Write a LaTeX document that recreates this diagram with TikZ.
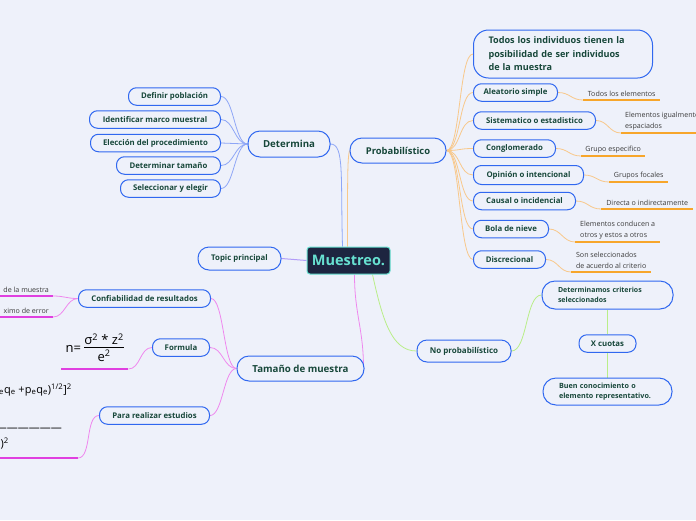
\documentclass[tikz,border=0pt]{standalone}
\usepackage{fontspec}
\setmainfont{Open Sans}
\usetikzlibrary{backgrounds}
\definecolor{bgc}{HTML}{EEF1FA}
\definecolor{bord}{HTML}{3068F0}
\definecolor{tgreen}{HTML}{17473A}
\definecolor{lgray}{HTML}{3A3A3A}
\definecolor{bcon}{HTML}{8EA6F6}
\definecolor{ocon}{HTML}{F8C88A}
\definecolor{oul}{HTML}{F7A62B}
\definecolor{pcon}{HTML}{EE88EE}
\definecolor{mul}{HTML}{E040E0}
\definecolor{gcon}{HTML}{B9EE88}
\definecolor{vcon}{HTML}{B29CF8}
\definecolor{navy}{HTML}{1D2540}
\definecolor{teal}{HTML}{67E0D0}
\begin{document}
\begin{tikzpicture}[x=1pt,y=-1pt,
  box/.style={draw=bord, line width=1pt, fill=bgc, rounded corners=8pt, text=tgreen,
    font=\fontsize{7.8}{9}\selectfont\bfseries, minimum height=17.5pt, inner sep=2pt},
  midbox/.style={box, rounded corners=12pt, font=\fontsize{9.7}{11}\selectfont\bfseries, minimum height=25pt},
  rootbox/.style={draw=teal, line width=1pt, fill=navy, rounded corners=3pt, text=teal,
    font=\fontsize{14.5}{16}\selectfont\bfseries, minimum width=83pt, minimum height=27pt, inner sep=2pt},
  leaf/.style={text=lgray, font=\fontsize{7.1}{11}\selectfont, align=left, inner xsep=4pt, inner ysep=3pt, anchor=south west},
  lleaf/.style={text=lgray, font=\fontsize{7.1}{11}\selectfont, inner xsep=4pt, inner ysep=3pt, anchor=south east},
  bc/.style={draw=bcon, line width=0.8pt},
  oc/.style={draw=ocon, line width=0.8pt},
  pc/.style={draw=pcon, line width=0.8pt},
  gc/.style={draw=gcon, line width=0.8pt},
  vc/.style={draw=vcon, line width=1pt},
  oline/.style={draw=oul, line width=1.6pt},
  mline/.style={draw=mul, line width=1.6pt},
  ftext/.style={anchor=base east, inner sep=0pt, font=\fontsize{11}{13}\selectfont}]
\useasboundingbox (0,0) rectangle (696,520);
\clip (0,0) rectangle (696,520);

% root
\node[rootbox] (root) at (348.5,260.5) {Muestreo.};
\node[box, minimum width=83pt, minimum height=23pt, rounded corners=11pt] (topic) at (239.5,258.5) {Topic principal};

% Determina branch
\node[midbox, minimum width=82pt, minimum height=26pt] (det) at (289,144) {Determina};
\node[box, minimum width=92pt, anchor=east] (d1) at (221,96.5) {Definir población};
\node[box, minimum width=131pt, anchor=east] (d2) at (221,119.5) {Identificar marco muestral};
\node[box, minimum width=130pt, anchor=east] (d3) at (221,143) {Elección del procedimiento};
\node[box, minimum width=104pt, anchor=east] (d4) at (221,165.5) {Determinar tamaño};
\node[box, minimum width=100pt, anchor=east] (d5) at (221,188.5) {Seleccionar y elegir};

% Probabilistico branch
\node[midbox, minimum width=96pt, font=\fontsize{9.4}{11}\selectfont\bfseries] (prob) at (398,150.5) {Probabilístico};
\node[box, rounded corners=15pt, font=\fontsize{9.1}{13.5}\selectfont\bfseries, align=left,
  text width=149pt, inner xsep=15pt, minimum height=48pt, anchor=west] (p0) at (473,54) {Todos los individuos tienen la\\posibilidad de ser individuos\\de la muestra};
\node[box, minimum width=84pt, anchor=west] (p1) at (473,92.5) {Aleatorio simple};
\node[box, minimum width=122pt, anchor=west] (p2) at (473,120.5) {Sistematico o estadistico};
\node[box, minimum width=82pt, anchor=west] (p3) at (473,148.5) {Conglomerado};
\node[box, minimum width=110pt, minimum height=19pt, anchor=west] (p4) at (473,175) {Opinión o intencional};
\node[box, minimum width=102pt, anchor=west] (p5) at (473,201) {Causal o incidencial};
\node[box, minimum width=75pt, anchor=west] (p6) at (473,229) {Bola de nieve};
\node[box, minimum width=72pt, anchor=west] (p7) at (473,259.5) {Discrecional};

\node[leaf, minimum width=77pt] (l1) at (583,100) {Todos los elementos};
\node[leaf, minimum width=80pt] (l2) at (621,133) {Elementos igualmente\\espaciados};
\node[leaf, minimum width=64pt] (l3) at (581,156) {Grupo especifico};
\node[leaf, minimum width=59pt] (l4) at (609,182) {Grupos focales};
\node[leaf, minimum width=92pt] (l5) at (601,209) {Directa o indirectamente};
\node[leaf, minimum width=85pt] (l6) at (575,242) {Elementos conducen a\\otros y estos a otros};
\node[leaf, minimum width=80pt] (l7) at (571,272) {Son seleccionados\\de acuerdo al criterio};

% No probabilistico branch
\node[box, minimum width=94pt, minimum height=22pt, rounded corners=10pt, font=\fontsize{8}{9}\selectfont\bfseries] (np) at (464,351) {No probabilístico};
\node[box, rounded corners=13pt, align=left, text width=99pt, inner xsep=16pt, minimum height=28pt,
  font=\fontsize{7}{10.5}\selectfont\bfseries] (dc) at (607.5,295) {Determinamos criterios\\seleccionados};
\node[box, minimum width=57pt] (xc) at (607.5,343.5) {X cuotas};
\node[box, rounded corners=13pt, align=left, text width=97pt, inner xsep=16pt, minimum height=27pt,
  font=\fontsize{7.2}{10.5}\selectfont\bfseries] (bk) at (607.5,391.5) {Buen conocimiento o\\elemento representativo.};

% Tamano branch
\node[midbox, minimum width=127pt] (tam) at (300.5,368.5) {Tamaño de muestra};
\node[box, minimum width=132pt, anchor=east] (t1) at (211,298.5) {Confiabilidad de resultados};
\node[box, minimum width=57pt, anchor=east] (t2) at (210,347.5) {Formula};
\node[box, minimum width=110pt, anchor=east] (t3) at (210,415.5) {Para realizar estudios};

\node[lleaf] (lt1) at (53,296) {de la muestra};
\node[lleaf] (lt2) at (53,317) {ximo de error};
\node[anchor=south west, minimum width=67pt, inner sep=3pt, font=\fontsize{13}{15}\selectfont] (fm) at (61,369)
  {n= \begin{tabular}{@{}c@{}}σ\textsuperscript{2} * z\textsuperscript{2}\\[-2pt]\hline\rule{0pt}{14pt}e\textsuperscript{2}\end{tabular}};
\node[ftext] (bf1) at (72,393)
  {\textsubscript{e}q\textsubscript{e} +p\textsubscript{e}q\textsubscript{e})\textsuperscript{1/2}]\textsuperscript{2}};
\node[ftext] (bf2) at (62,431) {———————};
\node[ftext] (bf3) at (9,447) {)\textsuperscript{2}};
\coordinate (bigul) at (78,458);

\begin{scope}[on background layer]
\fill[bgc] (0,0) rectangle (696,520);
% underlines
\foreach \l in {l1,l2,l3,l4,l5,l6,l7} \draw[oline] (\l.south west) -- (\l.south east);
\draw[mline] ([xshift=-60pt]lt1.south east) -- (lt1.south east);
\draw[mline] ([xshift=-60pt]lt2.south east) -- (lt2.south east);
\draw[mline] (fm.south west) -- (fm.south east);
\draw[mline] ([xshift=-90pt]bigul) -- (bigul);

% connectors
\draw[vc] (topic.east) -- (root.west);
\draw[bc] (det.east) .. controls +(14,0) and +(-2,-70) .. ([xshift=-6pt]root.north);
\foreach \c in {d1,d2,d3,d4,d5} \draw[bc] (det.west) .. controls +(-13,0) and +(13,0) .. (\c.east);
\draw[oc] ([xshift=-1pt]root.north) .. controls +(0,-70) and +(-2,8) .. (prob.west);
\foreach \c in {p0,p1,p2,p3,p4,p5,p6,p7} \draw[oc] (prob.east) .. controls +(14,0) and +(-14,0) .. (\c.west);
\foreach \c/\l in {p1/l1,p2/l2,p3/l3,p4/l4,p5/l5,p6/l6,p7/l7} \draw[oc] (\c.east) .. controls +(12,0) and +(-12,0) .. (\l.south west);
\draw[pc] ([xshift=6pt]root.south) .. controls +(0,40) and +(0,-40) .. ([xshift=-1pt]tam.east);
\foreach \c in {t1,t2,t3} \draw[pc] (tam.west) .. controls +(-13,0) and +(13,0) .. (\c.east);
\draw[pc] (t1.west) .. controls +(-12,0) and +(12,0) .. (lt1.south east);
\draw[pc] (t1.west) .. controls +(-12,0) and +(12,0) .. (lt2.south east);
\draw[pc] (t2.west) .. controls +(-12,0) and +(12,0) .. (fm.south east);
\draw[pc] (t3.west) .. controls +(-14,0) and +(14,0) .. (bigul);
\draw[gc] ([xshift=24pt]root.south) .. controls +(10,45) and +(-25,0) .. (np.west);
\draw[gc] (np.east) .. controls +(16,0) and +(-16,0) .. (dc.west);
\draw[gc] (dc.south) -- (xc.north);
\draw[gc] (xc.south) -- (bk.north);
\end{scope}
\end{tikzpicture}
\end{document}
